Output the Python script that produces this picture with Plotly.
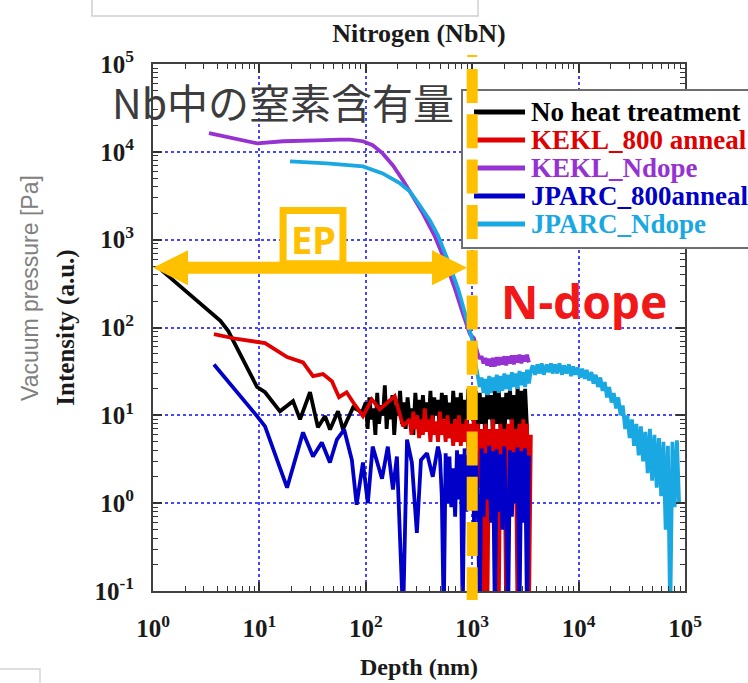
import math
import plotly.graph_objects as go

# ---------------- data ----------------
series_names = ["No heat treatment", "KEKL_800 anneal", "KEKL_Ndope", "JPARC_800anneal", "JPARC_Ndope"]
series_colors = ["#000000", "#e00000", "#9632d2", "#0000c8", "#1aa8e2"]

# depth sampling used by the noisy (dense) parts of the profiles, nm
depth_grid = [100, 104, 108, 113, 118, 123, 128, 133, 139, 145,
              151, 157, 164, 171, 178, 185, 193, 201, 210, 219,
              228, 237, 247, 258, 269, 280, 292, 304, 317, 330,
              344, 358, 373, 389, 405, 422, 440, 458, 477, 497,
              518, 540, 563, 586, 611, 636, 663, 691, 720, 750,
              781, 814, 848, 883, 920, 959, 999, 1040, 1084, 1129,
              1177, 1226, 1277, 1330, 1386, 1444, 1504, 1567, 1633, 1701,
              1772, 1846, 1923, 2004, 2088, 2175, 2266, 2361, 2459, 2562,
              2669, 2781, 2897, 3018, 3144, 3276, 3413, 3556]
depth_tail = [3700, 3900, 4100, 4300, 4500, 4700, 5000, 5200, 5500, 5700,
              6000, 6300, 6600, 7000, 7300, 7700, 8100, 8500, 8900, 9300,
              9800, 10300, 10800, 11400, 11900, 12500, 13200, 13800, 14500, 15200,
              16000, 16800, 17600, 18500, 19400, 20400, 21400, 22500, 23600, 24800,
              26000, 27400, 28700, 30200, 31700, 33200, 34900, 36700, 38500, 40400,
              42400, 44600, 46800, 49100, 51600, 54200, 56900, 59700, 62700, 65800,
              69100, 72600, 76200, 80000, 84000, 88000]

# No heat treatment
black_depth_head = [1.2, 4.3, 5.1, 9.5, 11.3, 15.6, 20.7, 24.1, 29.9, 35.5, 41.4, 46.1, 54.8, 61, 75.9, 92]
black_head = [450, 119, 91, 21, 18.3, 11.1, 14.5, 9.0, 18.3, 7.3, 9.8, 6.9, 11.1, 6.9, 12.3, 10.8]
black_noise = [14, 7, 16, 9, 12, 6, 18, 8, 13, 10,
               22, 7, 15, 9, 17, 6, 13, 10, 19, 8,
               14, 7, 16, 9, 12, 6, 18, 10, 15, 7,
               17, 9, 14, 8, 19, 7, 16, 10, 15, 6,
               18, 9, 17, 8, 14, 6, 19, 9, 16, 7,
               18, 8, 15, 6, 20, 9, 17, 7, 19, 6,
               18, 8, 16, 5, 20, 9, 17, 6, 19, 8,
               21, 7, 16, 5, 18, 9, 20, 7, 17, 6,
               21, 8, 19, 6, 20, 7]            # on depth_grid[0:86]

# KEKL_800 anneal
red_depth_head = [3.74, 6.15, 11.3, 18.2, 25.7, 31.9, 39.6, 48, 56, 66, 76, 94, 114, 135, 187, 224]
red_head = [84, 74, 66.5, 46, 40, 28, 29.5, 24.5, 16.1, 18.3, 14.1, 9.8, 15.2, 11.7, 16.5, 7.5]
red_noise = [9, 6, 11, 7, 10, 5.5, 9, 6, 12, 6.5,
             9, 5, 10, 6, 8.5, 5, 11, 6, 9, 5,
             10, 5.5, 8, 4.5, 9, 5, 10, 4.5, 8, 5,
             9, 4, 8, 3, 9, 2, 8, 1.5, 7, 0.05,
             8, 0.05, 7, 2, 9, 1, 7, 0.05, 8, 1.5,
             7, 0.05, 8, 2, 9, 1, 7, 0.05, 8, 1.5,
             9, 2, 8, 0.05, 6]                 # on depth_grid[23:88]

# KEKL_Ndope
purple_depth_head = [3.36, 9.5, 16.7, 34.8, 57, 71, 94, 116, 144, 180, 224, 277, 345, 447, 555, 689, 820, 953]
purple_head = [16300, 12500, 13200, 13500, 13800, 13800, 13200, 11900, 9600, 7000, 4720, 3100, 1982, 1081, 575, 275, 143, 84]
purple_noise = [75, 60, 50, 44, 47, 39, 45, 37, 44, 36,
                45, 36, 46, 37, 46, 38, 47, 37, 47, 39,
                48, 38, 48, 40, 49, 39, 48, 41, 49, 40]   # on depth_grid[57:87]

# JPARC_800anneal
blue_depth_head = [3.74, 9.5, 11.3, 18.2, 25.7, 31.9, 38.6, 46, 53.5, 62.6, 74, 82, 94, 104.5,
                   116, 142, 161, 180, 196, 224, 244, 271, 302, 330, 376, 426, 476]
blue_head = [38, 9.8, 7.5, 1.5, 6.4, 3.4, 4.9, 2.9, 5.3, 6.9, 3.1, 0.96, 2.9, 1.0,
             4.4, 1.9, 4.4, 1.43, 3.4, 0.05, 5.3, 2.9, 0.46, 3.1, 3.7, 2.0, 4.4]
blue_noise = [3.5, 1.2, 0.05, 3.7, 1.0, 3.4, 0.9, 2.5, 0.7, 4.0,
              1.1, 3.6, 0.05, 4.2, 0.8, 3.5, 1.0, 4.4, 0.6, 3.8,
              0.9, 0.05, 4.2, 0.7, 3.7, 1.1, 4.5, 0.6, 3.9, 0.05,
              4.1, 0.8, 3.6, 0.5, 4.4, 0.9, 0.05, 4.0, 0.7, 3.8,
              1.0, 4.3, 0.05, 3.9, 0.6, 4.2, 0.05, 3.5]    # on depth_grid[39:87]

# JPARC_Ndope
cyan_depth_head = [19.4, 43, 94, 144, 210, 260, 322, 401, 478, 593, 736, 875, 996]
cyan_head = [7780, 7400, 6820, 5680, 4370, 3540, 2450, 1650, 1110, 575, 275, 132, 74]
cyan_noise = [52, 36, 28, 21, 27, 18, 26, 17, 28, 18,
              27, 19, 29, 18, 28, 19, 30, 20, 29, 19,
              31, 21, 30, 20, 32, 22, 31, 21, 33, 23, 32]   # on depth_grid[57:88]
cyan_tail = [37, 29, 38, 30, 39, 29, 38, 31, 39, 30, 38,
             30, 39, 29, 37, 30, 38, 28, 36, 29,
             35, 27, 34, 26, 33, 25, 31,
             23, 29, 21, 27, 19, 24, 16,
             21, 14, 18, 12, 16, 10,
             13, 7, 10, 5.5, 9, 4.5, 8,
             3.5, 7.5, 3, 6.5, 2.2, 7, 1.8,
             6, 1.5, 5.5, 1.2, 5,
             0.5, 4.5, 0.05, 5, 0.9, 5.2, 1.0]            # on depth_tail

x_tick_vals = [1, 10, 100, 1000, 10000, 100000]
x_tick_text = ["10<sup>0</sup>", "10<sup>1</sup>", "10<sup>2</sup>", "10<sup>3</sup>", "10<sup>4</sup>", "10<sup>5</sup>"]
y_tick_vals = [0.1, 1, 10, 100, 1000, 10000, 100000]
y_tick_text = ["10<sup>-1</sup>", "10<sup>0</sup>", "10<sup>1</sup>", "10<sup>2</sup>", "10<sup>3</sup>",
               "10<sup>4</sup>", "10<sup>5</sup>"]

# EP region arrow (depth from/to, intensity level) and N-dope boundary depth
ep_from, ep_to, ep_level = 1, 894, 479
ep_box_x = [16.7, 61]
ep_box_y = [532, 2143]
ndope_depth = 1000

# ---------------- assemble series ----------------
series_x = [
    black_depth_head + depth_grid[0:86],
    red_depth_head + depth_grid[23:88],
    purple_depth_head + depth_grid[57:87],
    blue_depth_head + depth_grid[39:87],
    cyan_depth_head + depth_grid[57:88] + depth_tail,
]
series_y = [
    black_head + black_noise,
    red_head + red_noise,
    purple_head + purple_noise,
    blue_head + blue_noise,
    cyan_head + cyan_noise + cyan_tail,
]
for sx, sy in zip(series_x, series_y):
    assert len(sx) == len(sy), (len(sx), len(sy))

X_RANGE = (0, 5)
Y_RANGE = (-1, 5)
PLOT_L, PLOT_T, PLOT_W, PLOT_H = 153, 64, 532, 527
W, H = 748, 683


def xp(v):  # data -> paper fraction (log axis)
    return (math.log10(v) - X_RANGE[0]) / (X_RANGE[1] - X_RANGE[0])


def yp(v):
    return (math.log10(v) - Y_RANGE[0]) / (Y_RANGE[1] - Y_RANGE[0])


def px_x(px):  # pixel -> paper
    return (px - PLOT_L) / PLOT_W


def px_y(py):
    return (PLOT_T + PLOT_H - py) / PLOT_H


YELLOW = "#ffc000"
SERIF = "Liberation Serif"

fig = go.Figure()
for name, color, sx, sy in zip(series_names, series_colors, series_x, series_y):
    fig.add_trace(go.Scatter(x=sx, y=sy, mode="lines", name=name,
                             line=dict(color=color, width=3.8, simplify=False),
                             showlegend=False))

axis_common = dict(
    type="log", ticks="inside", ticklen=9, tickwidth=1.5, tickcolor="#333333",
    showline=True, linecolor="#404040", linewidth=2, mirror="allticks",
    showgrid=True, gridcolor="#4646ff", griddash="3px,3px", gridwidth=1.6,
    zeroline=False,
    tickfont=dict(family=SERIF, size=25, color="#1a1a1a", weight="bold"),
    minor=dict(ticks="inside", ticklen=5, tickwidth=1.2, tickcolor="#333333",
               dtick="D1", showgrid=False),
)

fig.update_layout(
    width=W, height=H,
    margin=dict(l=PLOT_L, r=W - PLOT_L - PLOT_W, t=PLOT_T, b=H - PLOT_T - PLOT_H, autoexpand=False),
    paper_bgcolor="white", plot_bgcolor="white",
    showlegend=False,
    title=dict(text="Nitrogen (NbN)", x=0.5, xref="paper", xanchor="center",
               y=1 - 33 / H, yref="container", yanchor="middle",
               font=dict(family=SERIF, size=26, color="#1a1a1a", weight="bold")),
    xaxis=dict(axis_common, range=list(X_RANGE), tickvals=x_tick_vals, ticktext=x_tick_text,
               ticklabelstandoff=14,
               title=dict(text="Depth (nm)", standoff=17,
                          font=dict(family=SERIF, size=24, color="#1a1a1a", weight="bold"))),
    yaxis=dict(axis_common, range=list(Y_RANGE), tickvals=y_tick_vals, ticktext=y_tick_text,
               ticklabelstandoff=12,
               title=dict(text="Intensity (a.u.)", standoff=13,
                          font=dict(family=SERIF, size=25, color="#1a1a1a", weight="bold"))),
)

shapes = []
annotations = []

# faint outlines of neighbouring slide boxes
shapes.append(dict(type="rect", xref="paper", yref="paper", x0=px_x(92), x1=px_x(478),
                   y0=px_y(16), y1=px_y(-20), line=dict(color="#cfcfcf", width=1.5),
                   fillcolor="rgba(0,0,0,0)", layer="above"))
shapes.append(dict(type="rect", xref="paper", yref="paper", x0=px_x(-20), x1=px_x(40),
                   y0=px_y(669), y1=px_y(700), line=dict(color="#d5d5d5", width=1.5),
                   fillcolor="rgba(0,0,0,0)", layer="above"))

# legend box (drawn manually so the yellow boundary can lie on top of it)
shapes.append(dict(type="rect", xref="paper", yref="paper", x0=px_x(462), x1=px_x(770),
                   y0=px_y(248), y1=px_y(90), line=dict(color="#6e6e6e", width=2),
                   fillcolor="white", layer="above"))
legend_rows_px = [112, 140, 168, 196, 224]
for name, color, row in zip(series_names, series_colors, legend_rows_px):
    shapes.append(dict(type="line", xref="paper", yref="paper", x0=px_x(474), x1=px_x(525),
                       y0=px_y(row), y1=px_y(row), line=dict(color=color, width=5), layer="above"))
    annotations.append(dict(text=name, xref="paper", yref="paper", x=px_x(529), y=px_y(row),
                            xanchor="left", yanchor="middle", showarrow=False,
                            font=dict(family=SERIF, size=27, color=color, weight="bold")))

# EP box
shapes.append(dict(type="rect", xref="paper", yref="paper",
                   x0=xp(ep_box_x[0]), x1=xp(ep_box_x[1]), y0=yp(ep_box_y[0]), y1=yp(ep_box_y[1]),
                   line=dict(color=YELLOW, width=7), fillcolor="white", layer="above"))
annotations.append(dict(text="<b>EP</b>", xref="paper", yref="paper",
                        x=(xp(ep_box_x[0]) + xp(ep_box_x[1])) / 2,
                        y=(yp(ep_box_y[0]) + yp(ep_box_y[1])) / 2 - 2 / PLOT_H,
                        xanchor="center", yanchor="middle", showarrow=False,
                        font=dict(family="Noto Sans", size=38, color=YELLOW)))

# double-headed EP arrow
head_len = 35 / PLOT_W
head_half = 17.5 / PLOT_H
shaft_half = 6 / PLOT_H
xa, xb, yc = xp(ep_from), xp(ep_to), yp(ep_level)
pts = [(xa, yc), (xa + head_len, yc + head_half), (xa + head_len, yc + shaft_half),
       (xb - head_len, yc + shaft_half), (xb - head_len, yc + head_half), (xb, yc),
       (xb - head_len, yc - head_half), (xb - head_len, yc - shaft_half),
       (xa + head_len, yc - shaft_half), (xa + head_len, yc - head_half)]
path = "M " + " L ".join(f"{x:.5f},{y:.5f}" for x, y in pts) + " Z"
shapes.append(dict(type="path", xref="paper", yref="paper", path=path,
                   fillcolor=YELLOW, line=dict(color=YELLOW, width=0), layer="above"))

# N-dope boundary (dashed yellow line at 10^3 nm)
shapes.append(dict(type="line", xref="paper", yref="paper", x0=xp(ndope_depth), x1=xp(ndope_depth),
                   y0=px_y(69), y1=px_y(600), line=dict(color=YELLOW, width=11, dash="34px,11.3px"),
                   layer="above"))
shapes.append(dict(type="line", xref="paper", yref="paper", x0=xp(ndope_depth) - 5 / PLOT_W,
                   x1=xp(ndope_depth) + 5 / PLOT_W, y0=px_y(56), y1=px_y(56),
                   line=dict(color=YELLOW, width=2), layer="above"))

# texts
annotations.append(dict(text="Nb中の窒素含有量", xref="paper", yref="paper", x=px_x(110), y=px_y(101),
                        xanchor="left", yanchor="middle", showarrow=False,
                        font=dict(family="Noto Sans CJK JP", size=41, color="#3c3c3c")))
annotations.append(dict(text="<b>N-dope</b>", xref="paper", yref="paper", x=px_x(584), y=px_y(301),
                        xanchor="center", yanchor="middle", showarrow=False,
                        font=dict(family="Noto Sans", size=46, color="#f01818")))
annotations.append(dict(text="Vacuum pressure [Pa]", xref="paper", yref="paper", x=px_x(30), y=px_y(288),
                        xanchor="center", yanchor="middle", textangle=-90, showarrow=False,
                        font=dict(family="Liberation Sans", size=23, color="#808080")))

fig.update_layout(shapes=shapes, annotations=annotations)
fig.write_html("out.html")
